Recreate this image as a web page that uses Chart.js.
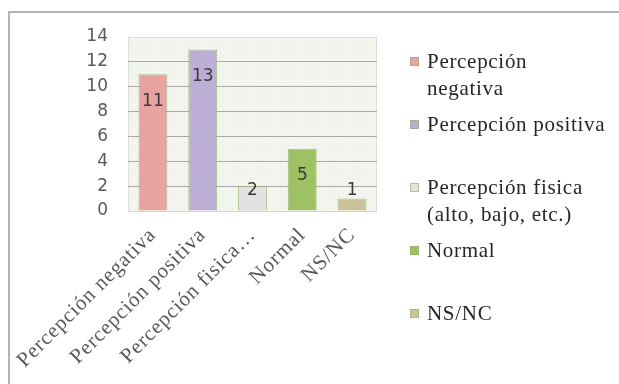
<!DOCTYPE html>
<html>
<head>
<meta charset="utf-8">
<script src="https://cdn.jsdelivr.net/npm/chart.js@4"></script>
<style>
  html, body { margin: 0; padding: 0; background: #ffffff; }
  #wrap { width: 619px; height: 384px; position: relative; }
</style>
</head>
<body>
<div id="wrap"><canvas id="c" width="619" height="384"></canvas></div>
<script>
// Categories, values and the texts shown on the axes and in the legend
const categories = ['Percepción negativa', 'Percepción positiva', 'Percepción fisica (alto, bajo, etc.)', 'Normal', 'NS/NC'];
const values = [11, 13, 2, 5, 1];
const tickLabels = ['Percepción negativa', 'Percepción positiva', 'Percepción fisica…', 'Normal', 'NS/NC'];
const legendLines = [['Percepción', 'negativa'], ['Percepción positiva'], ['Percepción fisica', '(alto, bajo, etc.)'], ['Normal'], ['NS/NC']];
const yTicks = [0, 2, 4, 6, 8, 10, 12, 14];
const barColors = ['#e6a3a0', '#bdaed5', '#e2e2e2', '#9dc163', '#ccc29c'];

// light textured fill behind the plot
function makeDots() {
  const p = document.createElement('canvas');
  p.width = 6; p.height = 6;
  const g = p.getContext('2d');
  g.fillStyle = '#f3f5ef';
  g.fillRect(0, 0, 6, 6);
  g.fillStyle = '#e3e6dc';
  g.fillRect(1, 1, 1, 1);
  g.fillRect(4, 4, 1, 1);
  return p;
}

const framePlugin = {
  id: 'frame',
  beforeDraw(chart) {
    // serif category labels are drawn slightly spaced out
    const xs = chart.scales.x;
    if (xs && !xs._spaced) {
      const orig = xs.drawLabels;
      xs.drawLabels = function (area) {
        this.ctx.save();
        this.ctx.letterSpacing = '0.9px';
        orig.call(this, area);
        this.ctx.restore();
      };
      xs._spaced = true;
    }
    const ctx = chart.ctx;
    const a = chart.chartArea;
    ctx.save();
    ctx.fillStyle = '#ffffff';
    ctx.fillRect(0, 0, chart.width, chart.height);
    // outer frame (top and left edges)
    ctx.strokeStyle = '#b4b4b4';
    ctx.lineWidth = 2;
    ctx.beginPath();
    ctx.moveTo(chart.width, 12);
    ctx.lineTo(9, 12);
    ctx.lineTo(9, chart.height);
    ctx.stroke();
    // plot background
    ctx.fillStyle = ctx.createPattern(makeDots(), 'repeat');
    ctx.fillRect(a.left, a.top, a.right - a.left, a.bottom - a.top);
    ctx.strokeStyle = '#dcdcdc';
    ctx.lineWidth = 1;
    ctx.strokeRect(a.left + 0.5, a.top + 0.5, a.right - a.left - 1, a.bottom - a.top);
    ctx.restore();
  }
};

const valueLabels = {
  id: 'valueLabels',
  afterDatasetsDraw(chart) {
    const ctx = chart.ctx;
    const meta = chart.getDatasetMeta(0);
    ctx.save();
    ctx.font = '17px "DejaVu Sans"';
    ctx.fillStyle = '#3a3a3a';
    ctx.textAlign = 'center';
    ctx.textBaseline = 'middle';
    meta.data.forEach((bar, i) => {
      const y = Math.min(bar.y + 27, 191);
      ctx.fillText(String(values[i]), bar.x, y);
    });
    ctx.restore();
  }
};

const sideLegend = {
  id: 'sideLegend',
  afterDraw(chart) {
    const ctx = chart.ctx;
    ctx.save();
    ctx.font = '21px "Liberation Serif"';
    ctx.letterSpacing = '0.7px';
    ctx.textBaseline = 'middle';
    ctx.textAlign = 'left';
    legendLines.forEach((lines, i) => {
      const y0 = 62 + 63 * i;
      ctx.fillStyle = barColors[i];
      ctx.fillRect(410, y0 - 5, 9, 9);
      ctx.strokeStyle = 'rgba(150,170,110,0.6)';
      ctx.lineWidth = 1;
      ctx.strokeRect(410.5, y0 - 4.5, 8, 8);
      ctx.fillStyle = '#262626';
      lines.forEach((t, j) => ctx.fillText(t, 427, y0 + j * 27));
    });
    ctx.restore();
  }
};

new Chart(document.getElementById('c'), {
  type: 'bar',
  data: {
    labels: categories,
    datasets: [{
      data: values,
      backgroundColor: barColors,
      borderColor: 'rgba(150,175,100,0.75)',
      borderWidth: 1,
      barPercentage: 0.58,
      categoryPercentage: 1.0
    }]
  },
  options: {
    responsive: false,
    animation: false,
    layout: { padding: { top: 37, right: 242, left: 0, bottom: 0 } },
    plugins: { legend: { display: false }, tooltip: { enabled: false } },
    scales: {
      x: {
        grid: { display: false },
        border: { display: false },
        ticks: {
          minRotation: 45,
          maxRotation: 45,
          padding: 4,
          color: '#595959',
          font: { family: 'Liberation Serif', size: 21 },
          callback: (v, i) => tickLabels[i]
        },
        afterFit(scale) { scale.height = 173; }
      },
      y: {
        min: 0,
        max: 14,
        afterBuildTicks(scale) { scale.ticks = yTicks.map(v => ({ value: v })); },
        grid: {
          drawTicks: false,
          color: ctx => (ctx.tick && ctx.tick.value === 14) ? '#dcdcdc' : (ctx.tick && ctx.tick.value === 0 ? '#d4d4d4' : '#a9a9a9'),
          lineWidth: 1
        },
        border: { display: false },
        ticks: {
          padding: 20,
          color: '#595959',
          font: { family: 'DejaVu Sans', size: 17 }
        },
        afterFit(scale) { scale.width = 128; }
      }
    }
  },
  plugins: [framePlugin, valueLabels, sideLegend]
});
</script>
</body>
</html>
